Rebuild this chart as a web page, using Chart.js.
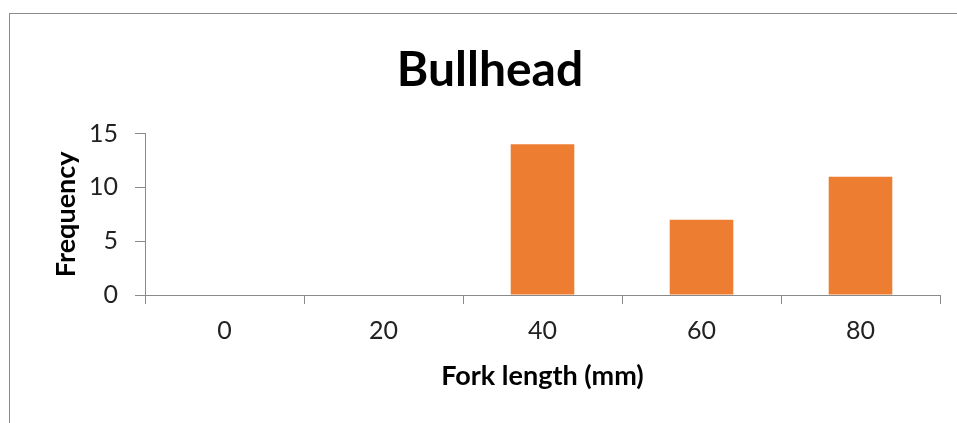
<!DOCTYPE html>
<html>
<head>
<meta charset="utf-8">
<script src="https://cdn.jsdelivr.net/npm/chart.js@4.4.0/dist/chart.umd.min.js"></script>
<style>
  html, body { margin: 0; padding: 0; background: #fff; overflow: hidden; }
  #wrap { position: relative; width: 957px; height: 423px; }
  #frame { position: absolute; left: 9px; top: 13px; width: 1000px; height: 500px; border: 1.5px solid #8c8c8c; box-sizing: border-box; }
  canvas { position: absolute; left: 0; top: 0; }
</style>
</head>
<body>
<div id="wrap">
  <div id="frame"></div>
  <canvas id="c" width="957" height="423"></canvas>
</div>
<script>
const chartTitle = "Bullhead";
const xAxisTitle = "Fork length (mm)";
const yAxisTitle = "Frequency";
const categories = ["0", "20", "40", "60", "80"];
const frequency = [0, 0, 14, 7, 11];
const yTicks = [0, 5, 10, 15];

const FONT = "Lato, Carlito, Calibri, 'Open Sans', sans-serif";
const axisGray = "#8a8a8a";

new Chart(document.getElementById("c"), {
  type: "bar",
  data: {
    labels: categories,
    datasets: [{
      data: frequency,
      backgroundColor: "#ED7D31",
      borderWidth: 0,
      barPercentage: 0.4,
      categoryPercentage: 1.0
    }]
  },
  options: {
    responsive: false,
    animation: false,
    devicePixelRatio: 1,
    layout: { padding: { left: 40, right: 17, top: 0, bottom: 0 } },
    plugins: {
      legend: { display: false },
      tooltip: { enabled: false },
      title: {
        display: true,
        text: chartTitle,
        color: "#000",
        font: { family: FONT, size: 48, weight: "bold" },
        padding: { top: 42, bottom: 34 }
      }
    },
    scales: {
      x: {
        grid: { display: true, drawOnChartArea: false, offset: true, tickLength: 9, color: axisGray, lineWidth: 1 },
        border: { display: true, color: axisGray, width: 1 },
        ticks: { color: "#222", font: { family: FONT, size: 25 }, padding: 12, maxRotation: 0 },
        title: {
          display: true, text: xAxisTitle, color: "#000",
          font: { family: FONT, size: 27, weight: "bold" },
          padding: { top: 0, bottom: 31 }
        },
        afterFit: s => { s.height = 128; }
      },
      y: {
        min: 0, max: 15,
        afterBuildTicks: s => { s.ticks = yTicks.map(v => ({ value: v })); },
        grid: { display: true, drawOnChartArea: false, tickLength: 10, color: axisGray, lineWidth: 1 },
        border: { display: true, color: axisGray, width: 1 },
        ticks: { color: "#222", font: { family: FONT, size: 25 }, padding: 17 },
        title: {
          display: true, text: yAxisTitle, color: "#000",
          font: { family: FONT, size: 27, weight: "bold" },
          padding: { top: 10, bottom: 0 }
        },
        afterFit: s => { s.width = 105; }
      }
    }
  }
});
</script>
</body>
</html>
